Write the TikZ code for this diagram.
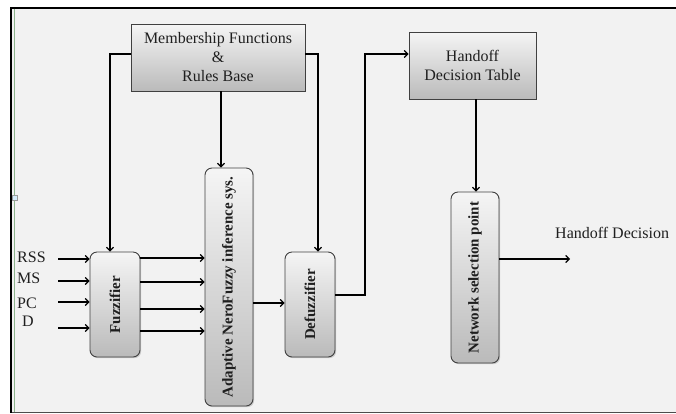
\documentclass[tikz,border=0pt]{standalone}
\usepackage{fontspec}
\setmainfont{Liberation Serif}
\usepackage{xcolor}
\usepackage{tikz}
\usetikzlibrary{positioning,calc,arrows.meta,shadows}

\definecolor{pagebg}{HTML}{F2F2F2}
\definecolor{boxline}{HTML}{404040}
\definecolor{inktext}{HTML}{1F1F1F}
\definecolor{selline}{HTML}{8DB38D}
\definecolor{handle}{HTML}{D4ECFA}

\begin{document}
\begin{tikzpicture}[x=1pt,y=-1pt,
	block/.style={draw=boxline, line width=0.9pt, top color=white!96!black, bottom color=black!27,
		drop shadow={opacity=0.35, shadow xshift=1.2pt, shadow yshift=-1.2pt},
		inner sep=0pt, text=inktext, align=center, font=\fontsize{16}{19}\selectfont},
	pill/.style={block, rounded corners=7pt, font=\fontsize{15}{18}\selectfont\bfseries},
	arr/.style={-{Straight Barb[length=3.5pt,width=7pt]}, line width=1.2pt},
	lbl/.style={text=inktext, inner sep=0pt, font=\fontsize{16}{19}\selectfont}]
	\useasboundingbox (0,0) rectangle (676,413);
	
	% page frame
	\fill[white] (0,0) rectangle (676,413);
	\fill[pagebg] (12,8) rectangle (676,412);
	\draw[line width=2pt] (10,8) -- (676,8);
	\draw[line width=2pt] (11,8) -- (11,413);
	\draw[selline, line width=1pt] (14.5,9) -- (14.5,412);
	\fill[black!70] (12,411.5) rectangle (676,413);
	\draw[black!40, fill=handle, line width=0.5pt] (12,195) rectangle (17,200);
	
	% top boxes
	\node[block, minimum width=174pt, minimum height=67pt] (mf) at (218,57.5) {Membership Functions\\\&\\Rules Base};
	\node[block, minimum width=127pt, minimum height=67pt] (hdt) at (472.5,65.5) {Handoff\\Decision Table};
	
	% vertical blocks
	\node[pill, minimum width=50pt, minimum height=105pt] (fuz) at (115,304.5) {\rotatebox{90}{Fuzzifier}};
	\node[pill, minimum width=48pt, minimum height=238pt] (anfis) at (229,287) {\rotatebox{90}{Adaptive NeroFuzzy inference sys.}};
	\node[pill, minimum width=50pt, minimum height=105pt] (defuz) at (310,304.5) {\rotatebox{90}{Defuzzifier}};
	\node[pill, minimum width=48pt, minimum height=171pt] (nsp) at (475,277.5) {\rotatebox{90}{Network selection point}};
	
	% inputs
	\node[lbl, anchor=west] (l-rss) at (17,257) {RSS};
	\node[lbl, anchor=west] (l-ms) at (17,278) {MS};
	\node[lbl, anchor=west] (l-pc) at (17,303) {PC};
	\node[lbl, anchor=west] (l-d) at (22,321) {D};
	\coordinate (rss) at (58,259);
	\coordinate (ms) at (58,281);
	\coordinate (pc) at (58,302);
	\coordinate (d) at (58,328);
	\foreach \c in {rss,ms,pc,d}
		\draw[arr] (\c) -- (\c -| fuz.west);
	
	% fuzzifier to inference system
	\foreach \y in {258,282,309,331}
		\draw[arr] (fuz.east |- 0,\y) -- (anfis.west |- 0,\y);
	\draw[arr] (anfis.east |- 0,303) -- (defuz.west |- 0,303);
	
	% rules base feeds
	\draw[arr] (mf.west |- 0,54) -| ($(fuz.north)+(-5,0)$);
	\draw[arr] (mf.south -| 221,0) -- (anfis.north -| 221,0);
	\draw[arr] (mf.east |- 0,54) -| ($(defuz.north)+(8,0)$);
	
	% decision path
	\draw[arr] (defuz.east |- 0,295) -- (365,295) -- (365,54) -- (hdt.west |- 0,54);
	\draw[arr] (hdt.south -| 476,0) -- (nsp.north -| 476,0);
	\coordinate (out) at (570,259);
	\draw[arr] (nsp.east |- out) -- (out);
	\node[lbl, anchor=west] (l-out) at (555,233) {Handoff Decision};
\end{tikzpicture}
\end{document}
